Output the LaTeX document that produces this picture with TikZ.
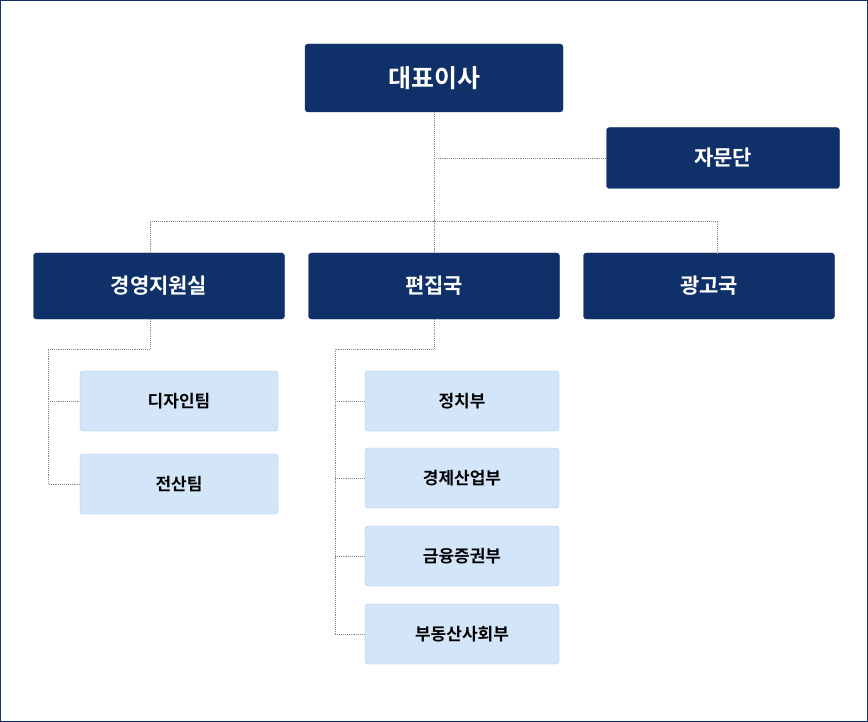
\documentclass[tikz,border=0pt]{standalone}
\usepackage{fontspec}
\newfontfamily\kr{Noto Sans CJK KR}[BoldFont={Noto Sans CJK KR Bold}]
\usetikzlibrary{positioning}
\definecolor{navy}{HTML}{0F3068}
\definecolor{lite}{HTML}{D3E5F8}
\definecolor{liteb}{HTML}{A9CBEE}
\definecolor{ln}{HTML}{8A8A8A}
\begin{document}
\begin{tikzpicture}[x=1pt,y=-1pt,
 dark/.style={fill=navy,draw=navy,rounded corners=3pt,text=white,font=\kr\bfseries,inner sep=0pt},
 light/.style={fill=lite,draw=liteb,rounded corners=3pt,text=black,font=\kr\bfseries\fontsize{17}{20}\selectfont,inner sep=0pt,minimum width=198pt,minimum height=60pt},
 conn/.style={draw=ln,densely dotted,line width=0.9pt}]
\draw[navy,fill=white,line width=1pt] (0.5,0.5) rectangle (867.5,721.5);
\node[dark,minimum width=258pt,minimum height=68pt,font=\kr\bfseries\fontsize{25}{28}\selectfont] (ceo) at (434,78) {대표이사};
\node[dark,minimum width=233pt,minimum height=61pt,font=\kr\bfseries\fontsize{21}{24}\selectfont] (adv) at (723,158) {자문단};
\foreach \n/\x/\t in {ms/159/경영지원실,ed/434/편집국,ad/709/광고국}
 \node[dark,minimum width=251pt,minimum height=66pt,font=\kr\bfseries\fontsize{21}{24}\selectfont] (\n) at (\x,286) {\t};
\node[light] (d1) at (179,401) {디자인팀};
\node[light] (d2) at (179,484) {전산팀};
\node[light,minimum width=194pt] (e1) at (462,401) {정치부};
\node[light,minimum width=194pt] (e2) at (462,478) {경제산업부};
\node[light,minimum width=194pt] (e3) at (462,556) {금융증권부};
\node[light,minimum width=194pt] (e4) at (462,634) {부동산사회부};
\coordinate (j) at (434,221);
\draw[conn] (ceo.south) -- (j);
\draw[conn] (434,158) -- (adv.west);
\draw[conn] (150,253) -- (150,221) -- (717,221) -- (717,253);
\draw[conn] (j) -- (ed.north);
\draw[conn] (150,319) -- (150,349) -- (48,349) -- (48,484) -- (d2.west);
\draw[conn] (48,401) -- (d1.west);
\draw[conn] (ed.south) -- (434,349) -- (335,349) -- (335,634) -- (e4.west);
\foreach \n in {e1,e2,e3} \draw[conn] (335,0 |- \n.west) -- (\n.west);
\end{tikzpicture}
\end{document}
